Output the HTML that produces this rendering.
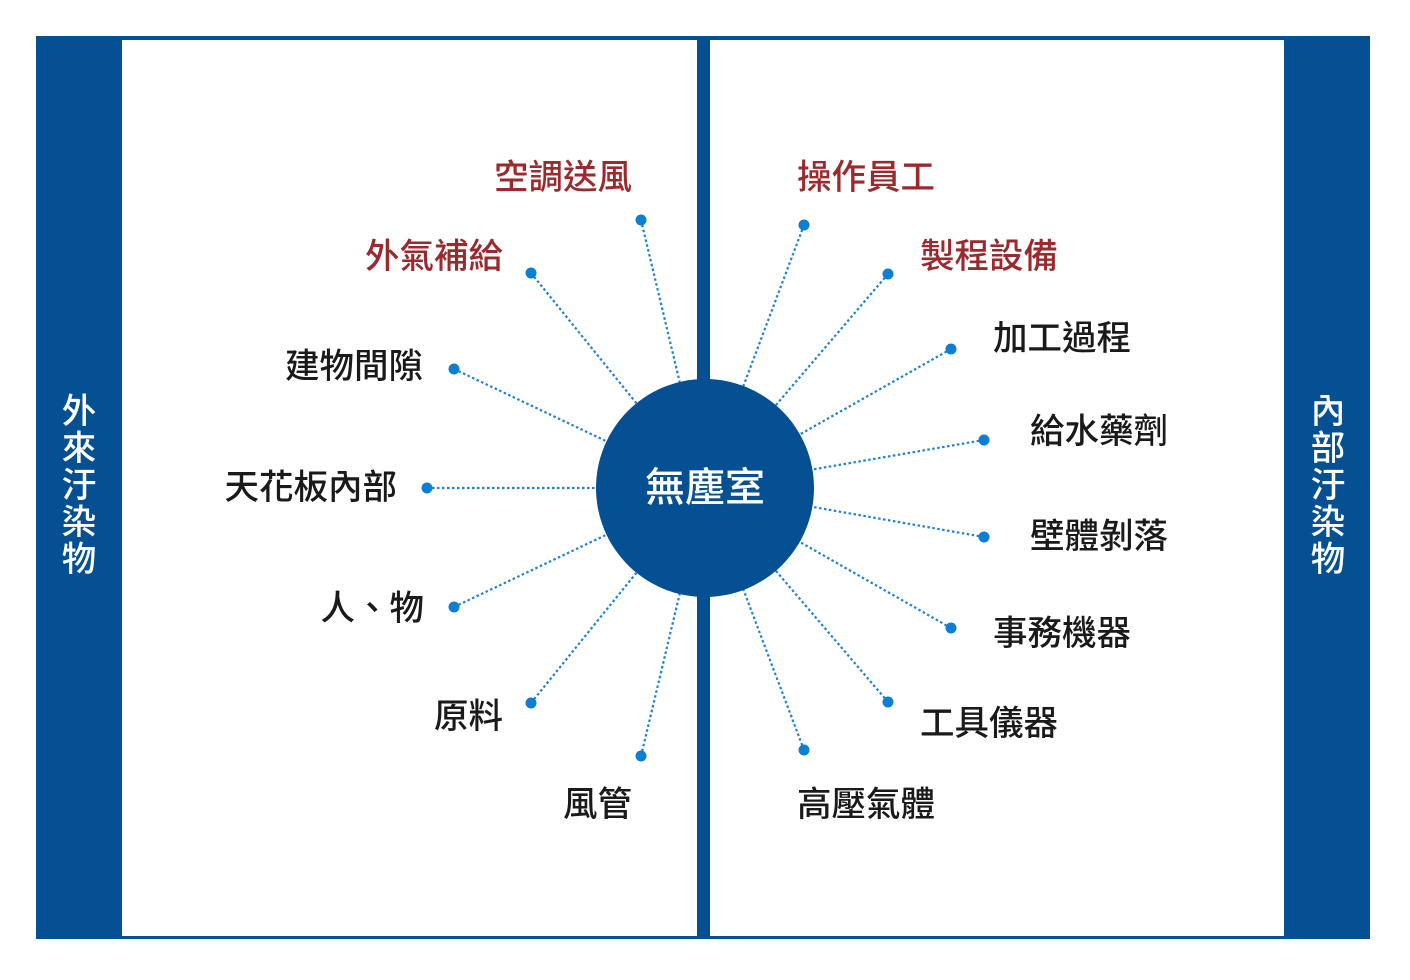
<!DOCTYPE html>
<html><head><meta charset="utf-8"><style>
body{margin:0;background:#fff}
svg text{font-family:"Liberation Sans","Noto Sans CJK TC",sans-serif;font-size:34.5px;font-weight:500;dominant-baseline:central}
</style></head><body>
<svg width="1410" height="975" viewBox="0 0 1410 975" xmlns="http://www.w3.org/2000/svg">
<rect x="36" y="36" width="1334" height="903" fill="#054f93"/>
<rect x="122" y="40" width="1162" height="896" fill="#fff"/>
<g stroke="#1c82d1" stroke-width="2.2" stroke-dasharray="2.5 2.5">
<line x1="641" y1="220" x2="705" y2="488"/><line x1="531" y1="273" x2="705" y2="488"/>
<line x1="454" y1="369" x2="705" y2="488"/><line x1="427" y1="488" x2="705" y2="488"/>
<line x1="454" y1="607" x2="705" y2="488"/><line x1="531" y1="703" x2="705" y2="488"/>
<line x1="641" y1="756" x2="705" y2="488"/>
<line x1="804" y1="225" x2="705" y2="488"/><line x1="888" y1="274" x2="705" y2="488"/>
<line x1="951" y1="349" x2="705" y2="488"/><line x1="984" y1="440" x2="705" y2="488"/>
<line x1="984" y1="537" x2="705" y2="488"/><line x1="951" y1="628" x2="705" y2="488"/>
<line x1="888" y1="702" x2="705" y2="488"/><line x1="804" y1="750" x2="705" y2="488"/>
</g>
<g fill="#0a7fd3">
<circle cx="641" cy="220" r="5.5"/><circle cx="531" cy="273" r="5.5"/><circle cx="454" cy="369" r="5.5"/>
<circle cx="427" cy="488" r="5.5"/><circle cx="454" cy="607" r="5.5"/><circle cx="531" cy="703" r="5.5"/>
<circle cx="641" cy="756" r="5.5"/>
<circle cx="804" cy="225" r="5.5"/><circle cx="888" cy="274" r="5.5"/><circle cx="951" cy="349" r="5.5"/>
<circle cx="984" cy="440" r="5.5"/><circle cx="984" cy="537" r="5.5"/><circle cx="951" cy="628" r="5.5"/>
<circle cx="888" cy="702" r="5.5"/><circle cx="804" cy="750" r="5.5"/>
</g>
<rect x="697" y="38" width="13" height="900" fill="#054f93"/>
<circle cx="705" cy="488" r="109" fill="#054f93"/>
<text x="705" y="488" fill="#fff" text-anchor="middle" style="font-size:40px">無塵室</text>
<g fill="#9b2a2e">
<text x="632" y="178" text-anchor="end">空調送風</text>
<text x="503" y="257" text-anchor="end">外氣補給</text>
<text x="797" y="178">操作員工</text>
<text x="920" y="257">製程設備</text>
</g>
<g fill="#1a1a1a">
<text x="423" y="367" text-anchor="end">建物間隙</text>
<text x="397" y="488" text-anchor="end">天花板內部</text>
<text x="424" y="609" text-anchor="end">人、物</text>
<text x="503" y="717" text-anchor="end">原料</text>
<text x="632" y="805" text-anchor="end">風管</text>
<text x="993" y="339">加工過程</text>
<text x="1030" y="432">給水藥劑</text>
<text x="1030" y="537">壁體剝落</text>
<text x="993" y="634">事務機器</text>
<text x="920" y="724">工具儀器</text>
<text x="797" y="805">高壓氣體</text>
</g>
<g fill="#fff" text-anchor="middle">
<text x="79" y="412">外</text><text x="79" y="449">來</text><text x="79" y="486">汙</text><text x="79" y="523">染</text><text x="79" y="560">物</text>
<text x="1328" y="412">內</text><text x="1328" y="449">部</text><text x="1328" y="486">汙</text><text x="1328" y="523">染</text><text x="1328" y="560">物</text>
</g>
</svg>
</body></html>
